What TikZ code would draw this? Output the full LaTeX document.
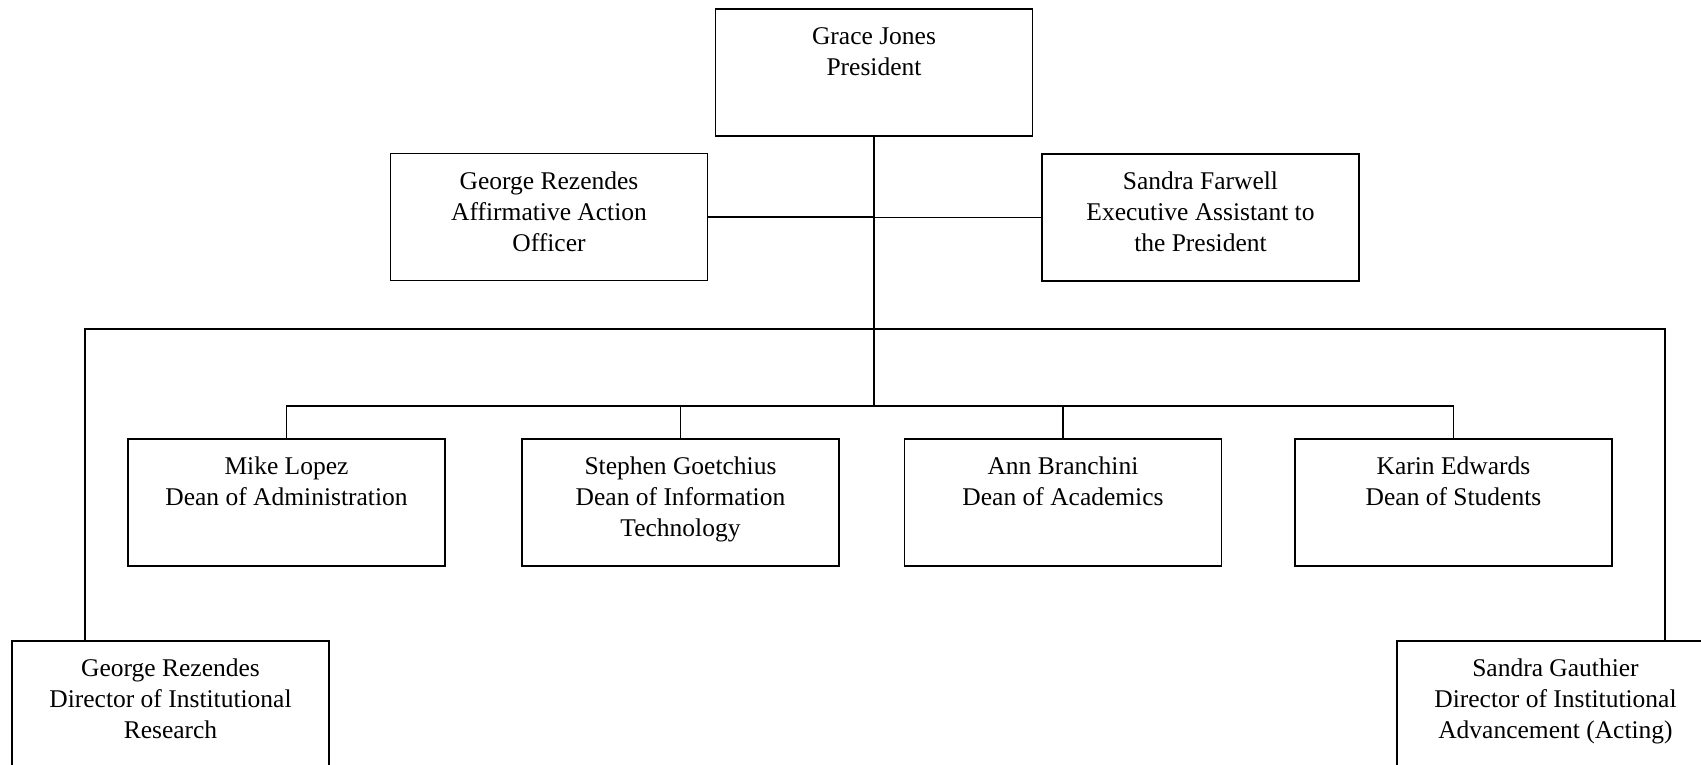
\documentclass[tikz,border=0pt]{standalone}
\usepackage{fontspec}
\setmainfont{Liberation Serif}
\usepackage{tikz}
\newcommand{\boxlines}[1]{\parbox[c][127pt][t]{317pt}{\centering\vspace*{14pt}\strut #1}}

\begin{document}
\begin{tikzpicture}[x=1pt,y=-1pt]
\tikzstyle{every node}+=[inner sep=0pt, font=\fontsize{25.5}{31}\selectfont]
\tikzstyle{unitbox}=[draw, black, line width=1.6pt]
\tikzstyle{link}=[black, line width=1.6pt]
\useasboundingbox (0,0) rectangle (1701,764);
\clip (0,0) rectangle (1701,764);
\node [unitbox] (pres) at (874,72.5) {\boxlines{Grace Jones\\President}};
\node [unitbox] (aao) at (549,217) {\boxlines{George Rezendes\\Affirmative Action\\Officer}};
\node [unitbox] (exec) at (1200.5,217.5) {\boxlines{Sandra Farwell\\Executive Assistant to\\the President}};
\node [unitbox] (admin) at (286.5,502.5) {\boxlines{Mike Lopez\\Dean of Administration}};
\node [unitbox] (infotech) at (680.5,502.5) {\boxlines{Stephen Goetchius\\Dean of Information\\Technology}};
\node [unitbox] (acad) at (1063,502.5) {\boxlines{Ann Branchini\\Dean of Academics}};
\node [unitbox] (students) at (1453.5,502.5) {\boxlines{Karin Edwards\\Dean of Students}};
\node [unitbox] (research) at (170.5,704.5) {\boxlines{George Rezendes\\Director of Institutional\\Research}};
\node [unitbox] (advance) at (1555.5,704.5) {\boxlines{Sandra Gauthier\\Director of Institutional\\Advancement (Acting)}};
\coordinate (bus) at (874,406);
\coordinate (lt) at (85,329);
\coordinate (rt) at (1665,329);
\draw [link] (pres.south) -- (pres.south |- bus);
\draw [link] (aao.east) -- (aao.east -| pres.south);
\draw [link] (exec.west) -- (exec.west -| pres.south);
\draw [link] (research.north -| lt) -- (lt) -- (rt) -- (advance.north -| rt);
\draw [link] (admin.north) -- (admin.north |- bus) -- (students.north |- bus) -- (students.north);
\draw [link] (infotech.north) -- (infotech.north |- bus);
\draw [link] (acad.north) -- (acad.north |- bus);
\end{tikzpicture}
\end{document}
